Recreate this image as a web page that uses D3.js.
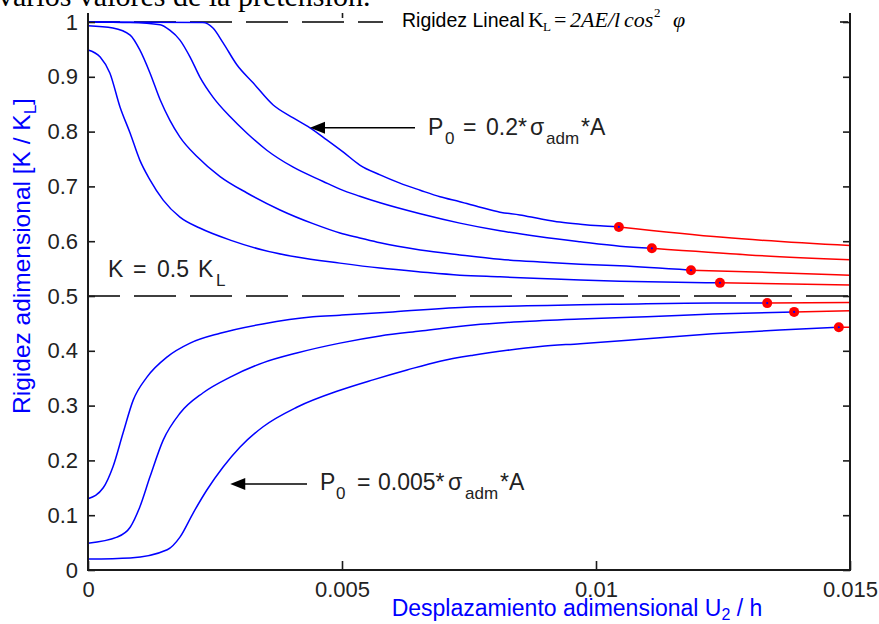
<!DOCTYPE html>
<html>
<head>
<meta charset="utf-8">
<script src="https://cdn.jsdelivr.net/npm/d3@7"></script>
<style>
  html, body { margin: 0; padding: 0; background: #ffffff; }
  svg { display: block; }
  text { font-family: "Liberation Sans", Arial, sans-serif; }
  .serif { font-family: "Liberation Serif", "Times New Roman", serif; }
</style>
</head>
<body>
<svg id="chart" width="879" height="624"></svg>
<script>
// ---- axis ticks ----
const xTicks = [0, 0.005, 0.01, 0.015];
const xTickLabels = ["0", "0.005", "0.01", "0.015"];
const yTicks = [0, 0.1, 0.2, 0.3, 0.4, 0.5, 0.6, 0.7, 0.8, 0.9, 1];
const yTickLabels = ["0", "0.1", "0.2", "0.3", "0.4", "0.5", "0.6", "0.7", "0.8", "0.9", "1"];

// reference stiffness levels (dashed)
const linearLevel = 1.0;   // K = K_L
const halfLevel = 0.5;     // K = 0.5 K_L

// ---- stiffness curves: U2/h (u) vs K/K_L (k) ----
// elastic branch (blue) of each prestress level, top to bottom
const u1 = [0, 0.00226, 0.00246, 0.00266, 0.00293, 0.00325, 0.00364, 0.00404, 0.00437, 0.00470, 0.00502, 0.00535, 0.00575, 0.00614, 0.00654, 0.00693, 0.00732, 0.00772, 0.00811, 0.00850, 0.00890, 0.00929, 0.00969, 0.01008, 0.01045];
const k1 = [1.000, 0.999, 0.989, 0.962, 0.922, 0.889, 0.849, 0.825, 0.807, 0.785, 0.763, 0.739, 0.721, 0.706, 0.693, 0.681, 0.672, 0.662, 0.653, 0.648, 0.641, 0.635, 0.631, 0.628, 0.626];
const u2 = [0, 0.00083, 0.00142, 0.00161, 0.00181, 0.00201, 0.00220, 0.00246, 0.00280, 0.00313, 0.00352, 0.00404, 0.00463, 0.00496, 0.00535, 0.00575, 0.00654, 0.00732, 0.00811, 0.00890, 0.00969, 0.01047, 0.01110];
const k2 = [1.000, 0.999, 0.995, 0.985, 0.967, 0.936, 0.900, 0.863, 0.827, 0.797, 0.766, 0.735, 0.709, 0.695, 0.682, 0.670, 0.650, 0.633, 0.619, 0.608, 0.599, 0.591, 0.587];
const u3 = [0, 0.00049, 0.00083, 0.00102, 0.00122, 0.00142, 0.00161, 0.00181, 0.00215, 0.00260, 0.00313, 0.00378, 0.00443, 0.00496, 0.00535, 0.00575, 0.00654, 0.00732, 0.00811, 0.00890, 0.00969, 0.01047, 0.01187];
const k3 = [0.993, 0.989, 0.976, 0.949, 0.907, 0.858, 0.821, 0.790, 0.754, 0.718, 0.688, 0.657, 0.632, 0.615, 0.606, 0.597, 0.584, 0.575, 0.567, 0.562, 0.558, 0.555, 0.547];
const u4 = [0, 0.00024, 0.00043, 0.00063, 0.00083, 0.00102, 0.00122, 0.00148, 0.00181, 0.00220, 0.00280, 0.00344, 0.00411, 0.00496, 0.00575, 0.00654, 0.00732, 0.00811, 0.00890, 0.00969, 0.01047, 0.01244];
const k4 = [0.949, 0.936, 0.907, 0.845, 0.797, 0.748, 0.712, 0.675, 0.644, 0.624, 0.602, 0.584, 0.571, 0.560, 0.551, 0.544, 0.538, 0.535, 0.532, 0.529, 0.527, 0.524];
const u5 = [0, 0.00030, 0.00049, 0.00069, 0.00089, 0.00116, 0.00156, 0.00201, 0.00260, 0.00344, 0.00443, 0.00496, 0.00600, 0.00752, 0.00864, 0.00969, 0.01047, 0.01230, 0.01337];
const k5 = [0.130, 0.150, 0.188, 0.250, 0.310, 0.352, 0.389, 0.414, 0.432, 0.449, 0.462, 0.465, 0.471, 0.480, 0.482, 0.484, 0.485, 0.487, 0.487];
const u6 = [0, 0.00057, 0.00083, 0.00102, 0.00122, 0.00148, 0.00181, 0.00226, 0.00280, 0.00344, 0.00411, 0.00496, 0.00575, 0.00654, 0.00758, 0.00850, 0.00969, 0.01100, 0.01230, 0.01390];
const k6 = [0.049, 0.060, 0.078, 0.115, 0.170, 0.237, 0.286, 0.323, 0.352, 0.378, 0.396, 0.414, 0.427, 0.436, 0.447, 0.453, 0.458, 0.462, 0.467, 0.471];
const u7 = [0, 0.00083, 0.00156, 0.00181, 0.00207, 0.00234, 0.00266, 0.00299, 0.00344, 0.00411, 0.00496, 0.00561, 0.00628, 0.00693, 0.00758, 0.00825, 0.00890, 0.00969, 0.01100, 0.01230, 0.01362, 0.01478];
const k7 = [0.020, 0.022, 0.037, 0.060, 0.104, 0.146, 0.188, 0.224, 0.261, 0.297, 0.328, 0.347, 0.365, 0.381, 0.392, 0.401, 0.408, 0.413, 0.422, 0.431, 0.438, 0.443];

// post-limit branch (red), starting at the marked point
const u1Tail = [0.01045, 0.0125, 0.015];
const k1Tail = [0.626, 0.607, 0.592];
const u2Tail = [0.01110, 0.0130, 0.015];
const k2Tail = [0.587, 0.575, 0.566];
const u3Tail = [0.01187, 0.0134, 0.015];
const k3Tail = [0.547, 0.543, 0.538];
const u4Tail = [0.01244, 0.015];
const k4Tail = [0.524, 0.520];
const u5Tail = [0.01337, 0.015];
const k5Tail = [0.487, 0.488];
const u6Tail = [0.01390, 0.015];
const k6Tail = [0.471, 0.473];
const u7Tail = [0.01478, 0.015];
const k7Tail = [0.443, 0.443];

const curves = [
  [u1, k1, u1Tail, k1Tail],
  [u2, k2, u2Tail, k2Tail],
  [u3, k3, u3Tail, k3Tail],
  [u4, k4, u4Tail, k4Tail],
  [u5, k5, u5Tail, k5Tail],
  [u6, k6, u6Tail, k6Tail],
  [u7, k7, u7Tail, k7Tail]
].map(([u, k, ut, kt]) => ({
  elastic: u.map((d, i) => [d, k[i]]),
  tail: ut.map((d, i) => [d, kt[i]])
}));

// ---- layout ----
const svg = d3.select("#chart");
const plotLeft = 88, plotRight = 850, plotBottom = 570, plotTop = 13;
const x = d3.scaleLinear().domain([0, 0.015]).range([plotLeft, plotRight]);
const y = d3.scaleLinear().domain([0, 1]).range([plotBottom, 22]);

const BLUE = "#0000ff", RED = "#ff0000", AXIS = "#1a1a1a";

// last line of the paragraph above the figure (mostly off the top edge)
svg.append("text").attr("class", "serif")
  .attr("x", -2).attr("y", 6)
  .attr("font-size", 30).attr("fill", "#000")
  .text("varios valores de la pretensión.");

// dashed reference levels
const dashed = svg.append("g").attr("fill", "none").attr("stroke", "#000")
  .attr("stroke-width", 1.6).attr("stroke-dasharray", "42 14").attr("stroke-dashoffset", 10);
dashed.append("line").attr("x1", x(0)).attr("x2", x(0.015))
  .attr("y1", y(linearLevel)).attr("y2", y(linearLevel));
dashed.append("line").attr("x1", x(0)).attr("x2", x(0.015))
  .attr("y1", y(halfLevel)).attr("y2", y(halfLevel));

// curves
const line = d3.line().x(d => x(d[0])).y(d => y(d[1])).curve(d3.curveMonotoneX);
const gCurves = svg.append("g").attr("fill", "none").attr("stroke-width", 1.5);
curves.forEach(c => {
  gCurves.append("path").attr("d", line(c.tail)).attr("stroke", RED);
  gCurves.append("path").attr("d", line(c.elastic)).attr("stroke", BLUE);
});
// limit points
const gDots = svg.append("g");
curves.forEach(c => {
  const p = c.tail[0];
  gDots.append("circle").attr("cx", x(p[0])).attr("cy", y(p[1])).attr("r", 5).attr("fill", RED);
  gDots.append("circle").attr("cx", x(p[0])).attr("cy", y(p[1])).attr("r", 1.1).attr("fill", BLUE);
});

// ---- axes ----
const fmtX = (d, i) => xTickLabels[i];
const fmtY = (d, i) => yTickLabels[i];

const gx = svg.append("g").attr("transform", `translate(0,${plotBottom})`)
  .call(d3.axisBottom(x).tickValues(xTicks).tickFormat(fmtX).tickSizeInner(-9).tickSizeOuter(0).tickPadding(11));
const gy = svg.append("g").attr("transform", `translate(${plotLeft},0)`)
  .call(d3.axisLeft(y).tickValues(yTicks).tickFormat(fmtY).tickSizeInner(-7).tickSizeOuter(0).tickPadding(10));
const gr = svg.append("g").attr("transform", `translate(${plotRight},0)`)
  .call(d3.axisRight(y).tickValues(yTicks).tickFormat("").tickSizeInner(-7).tickSizeOuter(0));
const gt = svg.append("g").attr("transform", `translate(0,${plotTop})`)
  .call(d3.axisTop(x).tickValues(xTicks.slice(1, 3)).tickFormat("").tickSizeInner(-5).tickSizeOuter(0));

[gx, gy, gr, gt].forEach(g => {
  g.select(".domain").remove();
  g.selectAll(".tick line").attr("stroke", AXIS).attr("stroke-width", 1.6);
  g.selectAll(".tick text").attr("fill", "#222").attr("font-size", 22)
    .attr("font-family", "Liberation Sans, Arial, sans-serif");
});

// axis lines (box without top edge)
const gBox = svg.append("g").attr("stroke", AXIS).attr("stroke-width", 2);
gBox.append("line").attr("x1", plotLeft).attr("x2", plotLeft).attr("y1", plotTop).attr("y2", plotBottom + 1);
gBox.append("line").attr("x1", plotRight).attr("x2", plotRight).attr("y1", plotTop).attr("y2", plotBottom + 1);
gBox.append("line").attr("x1", plotLeft - 1).attr("x2", plotRight + 1).attr("y1", plotBottom).attr("y2", plotBottom);

// ---- axis titles ----
const yTitle = svg.append("text").attr("fill", BLUE).attr("font-size", 24.5)
  .attr("text-anchor", "middle")
  .attr("transform", "translate(30,256) rotate(-90)");
yTitle.append("tspan").text("Rigidez adimensional [K / K");
yTitle.append("tspan").attr("font-size", 17).attr("dy", 6).text("L");
yTitle.append("tspan").attr("dy", -6).text("]");

const xTitle = svg.append("text").attr("fill", BLUE).attr("font-size", 23)
  .attr("text-anchor", "middle").attr("x", 577).attr("y", 616);
xTitle.append("tspan").text("Desplazamiento adimensional U");
xTitle.append("tspan").attr("font-size", 16).attr("dy", 4).text("2");
xTitle.append("tspan").attr("dy", -4).text(" / h");

// ---- annotations ----
function richLabel(x0, baseline, pieces, size) {
  const t = svg.append("text").attr("fill", "#222").attr("font-size", size);
  pieces.forEach(p => {
    t.append("tspan").attr("x", x0 + p.dx).attr("y", baseline + (p.sub ? 9 : 0))
      .attr("font-size", p.sub ? 17 : size).text(p.t);
  });
  return t;
}
function arrow(xTip, yv, xEnd) {
  svg.append("line").attr("x1", xTip + 10).attr("x2", xEnd).attr("y1", yv).attr("y2", yv)
    .attr("stroke", "#000").attr("stroke-width", 1.5);
  svg.append("path").attr("d", `M${xTip},${yv} L${xTip + 15},${yv - 6} L${xTip + 15},${yv + 6} Z`).attr("fill", "#000");
}

// P0 = 0.2 σadm A  (points at the top curve)
arrow(x(0.00437), y(0.807), 415);
richLabel(428, 135, [
  { t: "P", dx: 0 }, { t: "0", dx: 17, sub: true }, { t: "=", dx: 35 },
  { t: "0.2*", dx: 58 }, { t: "σ", dx: 102 }, { t: "adm", dx: 118, sub: true }, { t: "*A", dx: 153 }
], 23);

// P0 = 0.005 σadm A  (points at the bottom curve)
arrow(x(0.00280), y(0.157), 307);
richLabel(320, 490, [
  { t: "P", dx: 0 }, { t: "0", dx: 16, sub: true }, { t: "=", dx: 37 },
  { t: "0.005*", dx: 58 }, { t: "σ", dx: 128 }, { t: "adm", dx: 145, sub: true }, { t: "*A", dx: 180 }
], 23);

// K = 0.5 K_L
richLabel(108, 277, [
  { t: "K", dx: 0 }, { t: "=", dx: 25 }, { t: "0.5", dx: 49 }, { t: "K", dx: 90 }, { t: "L", dx: 108, sub: true }
], 23);

// linear stiffness label on a white panel
svg.append("rect").attr("x", 383).attr("y", 0).attr("width", 457).attr("height", 38).attr("fill", "#fff");
const lin = svg.append("text").attr("y", 27).attr("fill", "#000");
lin.append("tspan").attr("x", 402).attr("font-size", 19.5).text("Rigidez Lineal");
lin.append("tspan").attr("class", "serif").attr("x", 528).attr("font-size", 22).text("K");
lin.append("tspan").attr("class", "serif").attr("x", 543).attr("dy", 4).attr("font-size", 13).text("L");
lin.append("tspan").attr("class", "serif").attr("x", 554).attr("dy", -4).attr("font-size", 22).text("=");
lin.append("tspan").attr("class", "serif").attr("x", 570).attr("font-size", 22).attr("font-style", "italic").text("2AE/l");
lin.append("tspan").attr("class", "serif").attr("x", 624).attr("font-size", 22).attr("font-style", "italic").text("cos");
lin.append("tspan").attr("class", "serif").attr("x", 654).attr("dy", -10).attr("font-size", 13).text("2");
lin.append("tspan").attr("class", "serif").attr("x", 673).attr("dy", 10).attr("font-size", 22).attr("font-style", "italic").text("φ");
</script>
</body>
</html>
